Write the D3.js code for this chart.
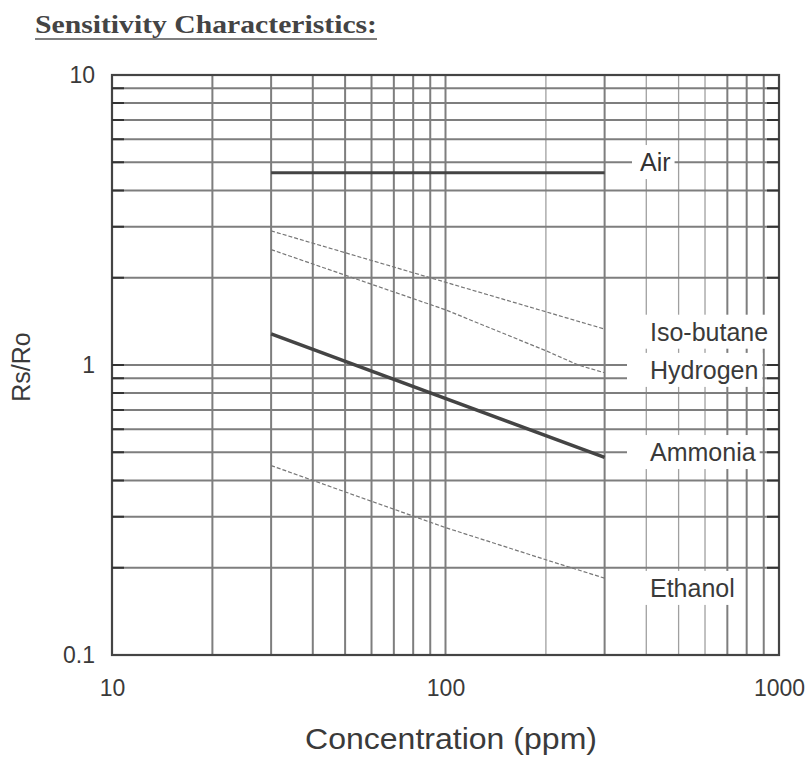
<!DOCTYPE html>
<html>
<head>
<meta charset="utf-8">
<script src="https://cdn.jsdelivr.net/npm/d3@7"></script>
<style>
  body { margin: 0; background: #fff; }
  svg { display: block; }
  text { font-family: "Liberation Sans", Arial, sans-serif; fill: #3a3a3a; }
</style>
</head>
<body>
<svg id="chart"></svg>
<script>
// Values (log-log)
const seriesNames = ['Air', 'Iso-butane', 'Hydrogen', 'Ammonia', 'Ethanol'];
const airPpm = [30, 300];
const airRatio = [4.6, 4.6];
const isoButanePpm = [30, 300];
const isoButaneRatio = [2.9, 1.33];
const hydrogenPpm = [30, 100, 200, 250, 300];
const hydrogenRatio = [2.5, 1.55, 1.12, 1.0, 0.94];
const ammoniaPpm = [30, 300];
const ammoniaRatio = [1.28, 0.48];
const ethanolPpm = [30, 40, 100, 200, 300];
const ethanolRatio = [0.45, 0.40, 0.275, 0.213, 0.184];

// where each curve's name sits on the right (Rs/Ro value)
const labelRatio = [5, 1.3, 0.96, 0.5, 0.17];

const xTicks = [10, 100, 1000];
const yTicks = [0.1, 1, 10];
const xGrid = [20, 30, 40, 50, 60, 70, 80, 90, 100, 200, 300, 400, 500, 600, 700, 800, 900];
const yGrid = [0.2, 0.3, 0.4, 0.5, 0.6, 0.7, 0.8, 0.9, 1, 2, 3, 4, 5, 6, 7, 8, 9];
const lightXGrid = [200, 400, 500, 600];

const config = {
  width: 811,
  height: 757,
  margin: { top: 75, right: 32, bottom: 102, left: 112 },
};

const width = config.width - config.margin.left - config.margin.right;
const height = config.height - config.margin.top - config.margin.bottom;

const svg = d3.select('#chart')
  .attr('width', config.width)
  .attr('height', config.height);

// title, serif and underlined like the datasheet
svg.append('text')
  .attr('x', 35)
  .attr('y', 33)
  .attr('textLength', 342)
  .attr('lengthAdjust', 'spacingAndGlyphs')
  .style('font-family', '"Liberation Serif", "DejaVu Serif", serif')
  .style('font-weight', 'bold')
  .style('font-size', '25px')
  .style('fill', '#444')
  .text('Sensitivity Characteristics:');
svg.append('line')
  .attr('x1', 35).attr('x2', 377)
  .attr('y1', 39).attr('y2', 39)
  .attr('stroke', '#555')
  .attr('stroke-width', 1.5);

const chart = svg.append('g')
  .attr('transform', `translate(${config.margin.left},${config.margin.top})`);

const xScale = d3.scaleLog().domain([10, 1000]).range([0, width]);
const yScale = d3.scaleLog().domain([0.1, 10]).range([height, 0]);

// grid
chart.append('g')
  .selectAll('line')
  .data(xGrid)
  .join('line')
  .attr('x1', (d) => xScale(d))
  .attr('x2', (d) => xScale(d))
  .attr('y1', 0)
  .attr('y2', height)
  .attr('stroke', (d) => (lightXGrid.includes(d) ? '#a0a0a0' : '#7e7e7e'))
  .attr('stroke-width', (d) => (lightXGrid.includes(d) ? 1.3 : 2));

chart.append('g')
  .selectAll('line')
  .data(yGrid)
  .join('line')
  .attr('x1', 0)
  .attr('x2', width)
  .attr('y1', (d) => yScale(d))
  .attr('y2', (d) => yScale(d))
  .attr('stroke', '#7e7e7e')
  .attr('stroke-width', 2);

// curves
const series = [
  { ppm: airPpm, ratio: airRatio, width: 3, dash: null, color: '#444' },
  { ppm: isoButanePpm, ratio: isoButaneRatio, width: 1.2, dash: '4,2', color: '#777' },
  { ppm: hydrogenPpm, ratio: hydrogenRatio, width: 1.2, dash: '4,2', color: '#777' },
  { ppm: ammoniaPpm, ratio: ammoniaRatio, width: 3.5, dash: null, color: '#444' },
  { ppm: ethanolPpm, ratio: ethanolRatio, width: 1.2, dash: '4,2', color: '#777' },
];

const line = d3.line()
  .x((d) => xScale(d[0]))
  .y((d) => yScale(d[1]));

chart.append('g')
  .selectAll('path')
  .data(series)
  .join('path')
  .attr('d', (s) => line(d3.zip(s.ppm, s.ratio)))
  .attr('fill', 'none')
  .attr('stroke', (s) => s.color)
  .attr('stroke-width', (s) => s.width)
  .attr('stroke-dasharray', (s) => s.dash);

// curve names sit on white patches that break the grid
const labelX = [528, 538, 538, 538, 538];
const labelG = chart.append('g');
const labels = labelG.selectAll('g')
  .data(seriesNames)
  .join('g');

labels.append('text')
  .attr('x', (d, i) => labelX[i])
  .attr('y', (d, i) => yScale(labelRatio[i]))
  .attr('dy', '0.35em')
  .style('font-size', '25px')
  .style('fill', (d, i) => (i === 0 ? '#333' : '#3a3a3a'))
  .text((d) => d);

labels.each(function () {
  const g = d3.select(this);
  const box = g.select('text').node().getBBox();
  const i = seriesNames.indexOf(g.datum());
  const padLeft = i === 0 ? 8 : 23;
  g.insert('rect', 'text')
    .attr('x', box.x - padLeft)
    .attr('y', box.y - 3)
    .attr('width', box.width + padLeft + 4)
    .attr('height', box.height + 6)
    .attr('fill', '#fff');
});

// frame with small ticks on both sides
chart.append('rect')
  .attr('width', width)
  .attr('height', height)
  .attr('fill', 'none')
  .attr('stroke', '#444')
  .attr('stroke-width', 2.2);

chart.append('g')
  .selectAll('path')
  .data(yGrid)
  .join('path')
  .attr('d', (d) => `M0,${yScale(d)}h12M${width - 12},${yScale(d)}h12`)
  .attr('stroke', '#333')
  .attr('stroke-width', 2);

// axes
const xAxis = d3.axisBottom(xScale)
  .tickValues(xTicks)
  .tickFormat(d3.format('d'))
  .tickSize(0)
  .tickPadding(41);

const yAxis = d3.axisLeft(yScale)
  .tickValues(yTicks)
  .tickFormat((d) => String(d))
  .tickSize(0)
  .tickPadding(17);

const xAxisG = chart.append('g')
  .attr('transform', `translate(0,${height})`)
  .call(xAxis);
xAxisG.select('.domain').remove();
xAxisG.selectAll('text')
  .attr('dy', 0)
  .style('font-size', '23px')
  .style('fill', '#3a3a3a')
  .style('font-family', '"Liberation Sans", Arial, sans-serif');

const yAxisG = chart.append('g').call(yAxis);
yAxisG.select('.domain').remove();
yAxisG.selectAll('text')
  .style('font-size', '23px')
  .style('fill', '#3a3a3a')
  .style('font-family', '"Liberation Sans", Arial, sans-serif');

// axis titles
svg.append('text')
  .attr('x', 451)
  .attr('y', 749)
  .attr('text-anchor', 'middle')
  .attr('textLength', 292)
  .attr('lengthAdjust', 'spacingAndGlyphs')
  .style('font-size', '30px')
  .text('Concentration (ppm)');

svg.append('text')
  .attr('transform', 'translate(30,367) rotate(-90)')
  .attr('text-anchor', 'middle')
  .style('font-size', '25px')
  .text('Rs/Ro');
</script>
</body>
</html>
